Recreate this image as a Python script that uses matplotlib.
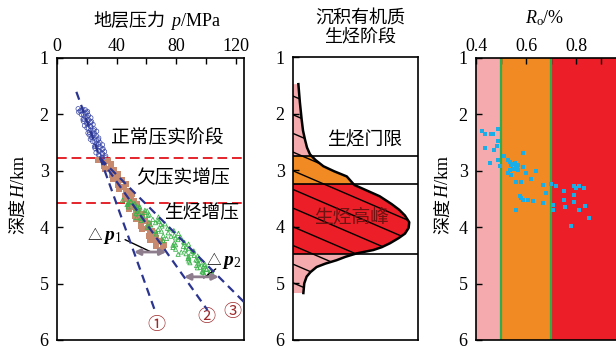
import numpy as np
import matplotlib.pyplot as plt
from matplotlib.patches import Polygon
from matplotlib.transforms import IdentityTransform

plt.rcParams['font.family'] = ['Liberation Serif', 'Noto Sans CJK SC']
plt.rcParams['mathtext.fontset'] = 'custom'
plt.rcParams['mathtext.rm'] = 'Liberation Serif'
plt.rcParams['mathtext.it'] = 'Liberation Serif:italic'
plt.rcParams['mathtext.bf'] = 'Liberation Serif:italic:bold'
plt.rcParams['lines.scale_dashes'] = False

# ---- 地层压力 (p, H) 散点 ----
blue_h = [1.90, 1.92, 1.93, 1.95, 1.96, 1.98, 2.00, 2.02, 2.04, 2.06, 2.08, 2.10, 2.12, 2.14, 2.16, 2.18,
          2.20, 2.22, 2.24, 2.26, 2.28, 2.30, 2.32, 2.34, 2.36, 2.38, 2.40, 2.42, 2.44, 2.46, 2.48, 2.50,
          2.52, 2.54, 2.56, 2.58, 2.60, 2.62, 2.64, 2.66, 2.68, 2.70, 2.72, 2.74, 2.76, 2.78,
          1.91, 1.94, 1.97, 2.01, 2.05, 2.09, 2.13, 2.17, 2.21, 2.25, 2.29, 2.33, 2.37, 2.41, 2.45, 2.49,
          2.53, 2.57, 2.61, 2.65, 2.69, 2.73, 2.77]
blue_p = [14.2, 19.0, 16.1, 20.5, 14.6, 18.9, 16.3, 21.1, 18.9, 22.7, 18.1, 21.4, 17.7, 22.5, 19.9, 24.2,
          18.5, 22.8, 20.1, 25.0, 22.8, 26.6, 21.9, 25.3, 21.6, 26.4, 23.7, 28.0, 22.4, 26.7, 24.0, 28.8,
          26.7, 30.5, 25.8, 29.1, 25.5, 30.3, 27.6, 31.9, 26.2, 30.6, 27.9, 32.7, 30.5, 29.4,
          17.3, 15.5, 20.0, 17.8, 20.3, 17.5, 23.2, 20.7, 22.5, 21.1, 24.7, 20.8, 24.7, 23.1, 27.7, 25.5,
          28.0, 25.2, 30.9, 28.4, 30.2, 28.8, 32.5]

brown_h = [2.80, 2.83, 2.86, 2.88, 2.91, 2.94, 2.96, 2.99, 3.02, 3.05, 3.08, 3.11, 3.14, 3.17, 3.20, 3.23,
           3.26, 3.29, 3.32, 3.35, 3.38, 3.41, 3.44, 3.47, 3.50, 3.53, 3.56, 3.59, 3.62, 3.65, 3.68, 3.71,
           3.74, 3.77, 3.80, 3.83, 3.86, 3.89, 3.92, 3.95, 3.98, 4.01, 4.04, 4.07, 4.10, 4.13, 4.16, 4.19,
           4.22, 4.25, 4.28, 4.31, 4.34, 4.37, 4.40]
brown_p = [27.5, 34.0, 31.5, 36.5, 31.5, 36.0, 32.0, 38.5, 37.2, 41.0, 36.8, 41.1, 37.3, 43.5, 41.0, 46.2,
           41.0, 45.2, 41.5, 47.6, 46.3, 50.0, 45.5, 49.5, 45.5, 51.5, 48.7, 53.8, 48.3, 52.4, 48.5, 54.6,
           53.2, 56.8, 52.4, 56.7, 53.0, 59.3, 56.5, 61.8, 56.5, 60.8, 57.1, 63.5, 62.3, 66.0, 61.8, 66.2,
           62.5, 68.8, 66.2, 71.5, 66.5, 71.0, 70.0]

green_h = [3.52, 3.54, 3.56, 3.58, 3.60, 3.62, 3.64, 3.66, 3.68, 3.70, 3.72, 3.74, 3.76, 3.78, 3.80, 3.82,
           3.84, 3.86, 3.88, 3.90, 3.92, 3.94, 3.96, 3.98, 4.00, 4.02, 4.04, 4.06, 4.08, 4.10, 4.12, 4.14,
           4.16, 4.18, 4.20, 4.22, 4.24, 4.26, 4.28, 4.30, 4.32, 4.34, 4.36, 4.38, 4.40, 4.42, 4.44, 4.46,
           4.48, 4.50, 4.52, 4.54, 4.56, 4.58, 4.60, 4.62, 4.64, 4.66, 4.68, 4.70, 4.72, 4.74, 4.76, 4.78,
           4.80, 4.82, 4.84, 4.86,
           3.55, 3.59, 3.63, 3.67, 3.71, 3.75, 3.79, 3.83, 3.87, 3.91, 3.95, 3.99, 4.03, 4.07, 4.11, 4.15,
           4.19, 4.23, 4.27, 4.31, 4.35, 4.39, 4.43, 4.47, 4.51, 4.55, 4.59, 4.63, 4.67, 4.71, 4.75, 4.79,
           4.83]
green_p = [44.0, 49.7, 47.9, 52.3, 47.0, 52.4, 47.8, 55.7, 54.6, 59.0, 53.5, 58.8, 53.0, 62.0, 57.6, 68.1,
           56.2, 64.3, 56.4, 68.5, 66.1, 72.5, 62.9, 70.5, 60.5, 74.2, 67.9, 78.4, 66.5, 74.6, 66.7, 78.8,
           76.5, 83.0, 73.5, 81.2, 71.3, 85.0, 78.7, 88.3, 77.8, 84.8, 77.8, 88.3, 86.2, 91.8, 83.4, 90.1,
           81.3, 92.0, 88.3, 95.1, 87.9, 93.2, 88.5, 96.3, 95.1, 99.4, 93.7, 98.2, 94.2, 100.5, 98.0, 103.0,
           98.1, 102.1, 99.0, 104.8,
           49.5, 47.7, 55.4, 52.7, 60.5, 55.0, 61.0, 53.4, 68.0, 61.7, 69.7, 61.7, 75.5, 70.1, 81.5, 71.3,
           79.5, 70.9, 85.5, 79.6, 86.6, 79.6, 91.5, 86.6, 94.4, 88.5, 94.1, 89.2, 98.8, 96.0, 100.2, 97.4,
           104.2]

# 压力趋势线 ①②③ (p, H 端点)
trend_p = [[13.0, 66.0], [29.0, 101.0], [29.0, 126.0]]
trend_h = [[1.60, 5.50], [2.78, 5.47], [2.78, 5.34]]
trend_names = ['①', '②', '③']
name_pos = [(67.0, 5.74), (100.3, 5.60), (117.7, 5.51)]
stage_bounds = [2.77, 3.57]
dp_depth = [4.44, 4.88]

# ---- 生烃曲线 ----
gen_h = [1.48, 1.80, 2.10, 2.30, 2.46, 2.60, 2.72, 2.82, 2.93, 3.02, 3.11, 3.26, 3.46, 3.60, 3.70, 3.80,
         3.92, 4.02, 4.12, 4.20, 4.29, 4.36, 4.41, 4.47, 4.53, 4.59, 4.65, 4.71, 4.80, 4.88, 5.00, 5.17]
gen_x = [0.043, 0.055, 0.069, 0.080, 0.096, 0.112, 0.136, 0.180, 0.243, 0.330, 0.430, 0.490, 0.693, 0.790,
         0.850, 0.895, 0.930, 0.925, 0.896, 0.845, 0.776, 0.710, 0.643, 0.509, 0.420, 0.349, 0.260, 0.189,
         0.140, 0.109, 0.090, 0.083]
gen_bounds = [2.75, 3.25, 4.48]

# ---- Ro 散点 ----
ro_x = [0.425, 0.436, 0.459, 0.467, 0.487, 0.487, 0.436, 0.472, 0.484, 0.487, 0.456, 0.497, 0.513, 0.529,
        0.536, 0.545, 0.556, 0.563, 0.569, 0.553, 0.567, 0.589, 0.587, 0.536, 0.529, 0.540, 0.599, 0.639,
        0.619, 0.559, 0.579, 0.669, 0.701, 0.720, 0.680, 0.576, 0.580, 0.589, 0.609, 0.629, 0.669, 0.559,
        0.709, 0.708, 0.751, 0.751, 0.757, 0.792, 0.800, 0.811, 0.832, 0.792, 0.791, 0.813, 0.836, 0.851,
        0.781, 0.540, 0.550, 0.560, 0.548]
ro_h = [2.30, 2.355, 2.355, 2.355, 2.255, 2.468, 2.592, 2.628, 2.557, 2.811, 2.865, 2.918, 2.746, 2.811,
        2.841, 2.871, 2.859, 2.930, 2.900, 2.960, 2.989, 2.930, 2.693, 2.989, 3.036, 3.078, 3.036, 2.995,
        3.143, 3.202, 3.202, 3.256, 3.232, 3.262, 3.386, 3.451, 3.475, 3.510, 3.522, 3.540, 3.575, 3.700,
        3.611, 3.700, 3.362, 3.522, 3.640, 3.267, 3.297, 3.267, 3.303, 3.427, 3.557, 3.700, 3.629, 3.836,
        3.978, 2.900, 2.880, 2.950, 2.960]
ro_bounds = [0.4, 0.5, 0.7, 1.0]
ro_colors = ['#f5aaad', '#f18a22', '#ec1e27']

W, HP = 616, 346
CJK = ['Noto Sans CJK SC']
def box(l, t, r, b):
    return [l / W, 1 - b / HP, (r - l) / W, (b - t) / HP]

fig = plt.figure(figsize=(6.16, 3.46), dpi=100)
ax1 = fig.add_axes(box(57, 58, 244, 340))
ax2 = fig.add_axes(box(293, 57, 418, 340))
ax3 = fig.add_axes(box(476, 58, 617, 340))
rend = fig.canvas.get_renderer()

fs = 13
for ax in (ax1, ax2, ax3):
    ax.set_ylim(6, 1)
    ax.set_yticks([1, 2, 3, 4, 5, 6])
    ax.tick_params(axis='y', direction='in', length=4, width=1, labelsize=fs, pad=6)
    for s in ax.spines.values():
        s.set_linewidth(1.2)


def chain(x, y, pieces, align='center', vertical=False, size=fs, color='k', gap=0):
    """把中文与公式分段排成一行; (x, y) 为显示坐标, y 为字的中线"""
    ts = []
    for s, fam, *sz in pieces:
        kw = {'family': fam} if fam else {}
        t = fig.text(0, 0, s, fontsize=sz[0] if sz else size, color=color, transform=IdentityTransform(),
                     rotation=90 if vertical else 0, rotation_mode='anchor',
                     ha='left', va='baseline', **kw)
        ts.append(t)
    lens = []
    for t in ts:
        bb = t.get_window_extent(rend)
        lens.append(bb.height if vertical else bb.width)
    total = sum(lens) + gap * (len(ts) - 1)
    shift = 0.36 * size * 100 / 72
    pos = -total / 2 if align == 'center' else 0
    for t, L in zip(ts, lens):
        if vertical:
            t.set_position((x + shift, y + pos))
        else:
            t.set_position((x + pos, y - shift))
        pos += L + gap


def px(xp, yp):
    return xp, HP - yp

# ---- 图1 ----
ax1.set_xlim(0, 125.5)
ax1.xaxis.tick_top()
ax1.set_xticks(range(0, 121, 20))
ax1.set_xticklabels(['0', '', '40', '', '80', '', '120'])
ax1.tick_params(axis='x', direction='in', length=4, width=1, labelsize=fs, pad=2)
for h in stage_bounds:
    ax1.axhline(h, color='#e5242b', lw=1.4, dashes=(7, 3.5))
ax1.scatter(blue_p, blue_h, s=10, facecolors='none', edgecolors='#3a48a8', lw=0.5, zorder=3)
ax1.scatter(brown_p, brown_h, s=16, marker='s', color='#c88a6e', lw=0, zorder=3)
ax1.scatter(green_p, green_h, s=9, marker='^', facecolors='none', edgecolors='#3cb44b', lw=0.6, zorder=3)
for tp, th, nm, pos in zip(trend_p, trend_h, trend_names, name_pos):
    ax1.plot(tp, th, color='#2b3590', lw=1.6, dashes=(6, 4), zorder=4)
    ax1.text(pos[0], pos[1], nm, color='#9e2a2b', fontsize=13, ha='center', va='center', family=CJK)


def p_on(i, h):
    return np.interp(h, trend_h[i], trend_p[i])

arr = dict(arrowstyle='<|-|>', color='#8d7d8d', lw=2, mutation_scale=9, shrinkA=0, shrinkB=0)
ax1.annotate('', xy=(p_on(1, dp_depth[0]), dp_depth[0]), xytext=(p_on(0, dp_depth[0]), dp_depth[0]),
             arrowprops=arr, zorder=5)
ax1.annotate('', xy=(p_on(2, dp_depth[1]), dp_depth[1]), xytext=(p_on(1, dp_depth[1]), dp_depth[1]),
             arrowprops=arr, zorder=5)
ax1.annotate('', xy=(64, 4.45), xytext=(44, 4.2), arrowprops=dict(arrowstyle='-', color='k', lw=1))
ax1.annotate('', xy=(97, 4.93), xytext=(108, 4.71), arrowprops=dict(arrowstyle='-', color='k', lw=1))
ax1.text(74.2, 2.42, '正常压实阶段', fontsize=13.5, ha='center', va='center', family=CJK)
ax1.text(84.3, 3.12, '欠压实增压', fontsize=13.5, ha='center', va='center', family=CJK)
ax1.text(97.0, 3.75, '生烃增压', fontsize=13.5, ha='center', va='center', family=CJK)

# ---- 图2 ----
ax2.set_xlim(0, 1)
ax2.set_xticks([])
verts = [(0, gen_h[0])] + list(zip(gen_x, gen_h)) + [(0, gen_h[-1])]
poly = Polygon(verts, closed=True, facecolor='#f5aaad', edgecolor='none')
ax2.add_patch(poly)
for (h0, h1), c in zip([(gen_bounds[0], gen_bounds[1]), (gen_bounds[1], gen_bounds[2])], ['#f18a22', '#ec1e27']):
    sp = ax2.axhspan(h0, h1, color=c, lw=0)
    sp.set_clip_path(poly)
for h0 in np.arange(1.36, 5.3, 0.33):
    ln, = ax2.plot([0, 1], [h0, h0 + 0.95], color='k', lw=1.0)
    ln.set_clip_path(poly)
for h in gen_bounds:
    ax2.axhline(h, color='k', lw=1.2)
ax2.plot(gen_x, gen_h, color='k', lw=1.8)
ax2.text(0.576, 2.46, '生烃门限', fontsize=13.5, ha='center', va='center', family=CJK)
ax2.text(0.47, 3.82, '生烃高峰', fontsize=13.5, ha='center', va='center', color='#6e1212', family=CJK)

# ---- 图3 ----
ax3.set_xlim(0.4, 0.964)
for i, c in enumerate(ro_colors):
    ax3.axvspan(ro_bounds[i], ro_bounds[i + 1], color=c, lw=0)
for x in ro_bounds[1:3]:
    ax3.axvline(x, color='#2bae4b', lw=1.6)
ax3.scatter(ro_x, ro_h, s=9, marker='s', color='#19aee8', lw=0, zorder=3)
ax3.xaxis.tick_top()
ax3.set_xticks([0.4, 0.5, 0.6, 0.7, 0.8, 0.9])
ax3.set_xticklabels(['0.4', '', '0.6', '', '0.8', ''])
ax3.tick_params(axis='x', direction='in', length=4, width=1, labelsize=fs, pad=2)
ax3.spines['right'].set_visible(False)

# ---- 标题与轴名 ----
chain(*px(157, 20), [('地层压力', CJK), ('$\\mathit{p}$/MPa', None)], gap=5)
fig.text(360 / W, 1 - 19 / HP, '沉积有机质', fontsize=fs, ha='center', va='center', family=CJK)
fig.text(360 / W, 1 - 36 / HP, '生烃阶段', fontsize=fs, ha='center', va='center', family=CJK)
fig.text(545 / W, 1 - 18 / HP, '$\\mathit{R}_{\\mathrm{o}}$/%', fontsize=fs, ha='center', va='center')
for xl in (17, 442):
    chain(*px(xl, 195), [('深度', CJK), ('$\\mathit{H}$/km', None)], vertical=True)

# △p 标注
x1, y1 = ax1.transData.transform((20.5, 4.11))
chain(x1, y1, [('△', CJK, 10.5), ('$\\mathbf{p}_{1}$', None)], align='left', size=14, gap=1)
x2, y2 = ax1.transData.transform((100.3, 4.55))
chain(x2, y2, [('△', CJK, 10.5), ('$\\mathbf{p}_{2}$', None)], align='left', size=14, gap=1)

fig.savefig('out.png', dpi=100)
